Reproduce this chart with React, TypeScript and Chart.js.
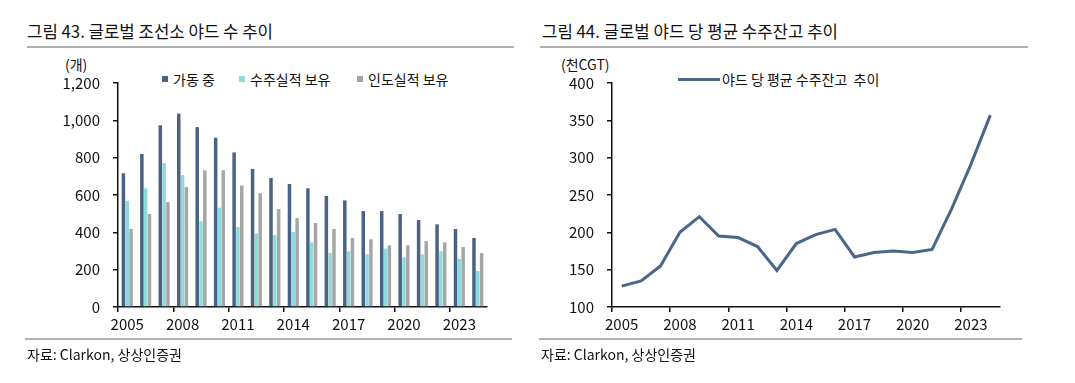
import React, { useEffect, useRef } from "react";
import { Chart, registerables } from "chart.js";

Chart.register(...registerables);

// ---------- data ----------
const years = [
  "2005", "2006", "2007", "2008", "2009", "2010", "2011", "2012", "2013", "2014",
  "2015", "2016", "2017", "2018", "2019", "2020", "2021", "2022", "2023", "2024",
];
const shownYears = ["2005", "2008", "2011", "2014", "2017", "2020", "2023"];

// 그림 43 (개)
const operating = [716, 820, 973, 1036, 964, 907, 828, 739, 691, 659, 636, 595, 571, 514, 514, 498, 466, 443, 418, 370];
const orderHeld = [569, 636, 771, 707, 459, 532, 428, 394, 385, 402, 346, 289, 298, 282, 313, 266, 282, 298, 257, 193];
const deliveryHeld = [418, 498, 562, 643, 732, 732, 651, 610, 525, 476, 450, 418, 370, 363, 330, 330, 353, 346, 321, 289];
const leftTicks = [0, 200, 400, 600, 800, 1000, 1200];

// 그림 44 (천CGT)
const avgBacklog = [128, 135, 155, 200, 221, 195, 193, 181, 149, 185, 197, 204, 167, 173, 175, 173, 177, 231, 291, 357];
const rightTicks = [100, 150, 200, 250, 300, 350, 400];

// ---------- styles ----------
const FONT = "'Noto Sans CJK KR', 'Noto Sans', sans-serif";
const NAVY = "#4a6384";
const CYAN = "#8fdbdb";
const GRAY = "#a6a6a6";
const LINE = "#4a6688";
const AXIS = "#111111";

function xAxis() {
  return {
    offset: true,
    grid: {
      offset: true,
      drawOnChartArea: false,
      drawTicks: true,
      tickLength: 5,
      lineWidth: 1.5,
      color: (ctx: any) =>
        ctx.type === "tick" && ctx.index % 3 === 0 ? AXIS : "rgba(0,0,0,0)",
    },
    border: { display: true, color: AXIS, width: 1.5 },
    ticks: {
      autoSkip: false,
      maxRotation: 0,
      minRotation: 0,
      padding: 3,
      color: "#111",
      font: { family: FONT, size: 15 },
      callback: (_v: any, i: number) => (shownYears.includes(years[i]) ? years[i] : ""),
    },
    afterFit: (s: any) => {
      s.height = 33;
    },
  };
}

function yAxis(ticks: number[], width: number) {
  return {
    min: ticks[0],
    max: ticks[ticks.length - 1],
    afterBuildTicks: (s: any) => {
      s.ticks = ticks.map((v) => ({ value: v }));
    },
    grid: {
      drawOnChartArea: false,
      drawTicks: true,
      tickLength: 5,
      lineWidth: 1.5,
      color: AXIS,
    },
    border: { display: true, color: AXIS, width: 1.5 },
    ticks: {
      padding: 13,
      color: "#111",
      font: { family: FONT, size: 15 },
      callback: (v: any) => Number(v).toLocaleString("en-US"),
    },
    afterFit: (s: any) => {
      s.width = width;
      s.paddingTop = 2;
      s.paddingBottom = 2;
    },
  };
}

function BarChart() {
  const ref = useRef<HTMLCanvasElement>(null);
  useEffect(() => {
    const chart = new Chart(ref.current as HTMLCanvasElement, {
      type: "bar",
      data: {
        labels: years,
        datasets: [
          { label: "가동 중", data: operating, backgroundColor: NAVY },
          { label: "수주실적 보유", data: orderHeld, backgroundColor: CYAN },
          { label: "인도실적 보유", data: deliveryHeld, backgroundColor: GRAY },
        ],
      },
      options: {
        animation: false,
        responsive: false,
        maintainAspectRatio: false,
        layout: { padding: { top: 13, right: 10, left: 0, bottom: 0 } },
        plugins: { legend: { display: false }, tooltip: { enabled: false } },
        datasets: { bar: { categoryPercentage: 0.62, barPercentage: 0.92 } },
        scales: { x: xAxis() as any, y: yAxis(leftTicks, 91) as any },
      },
    });
    return () => chart.destroy();
  }, []);
  return (
    <canvas
      ref={ref}
      width={470}
      height={270}
      style={{ position: "absolute", left: 27, top: 70, width: 470, height: 270 }}
    />
  );
}

function LineChart() {
  const ref = useRef<HTMLCanvasElement>(null);
  useEffect(() => {
    const chart = new Chart(ref.current as HTMLCanvasElement, {
      type: "line",
      data: {
        labels: years,
        datasets: [
          {
            label: "야드 당 평균 수주잔고  추이",
            data: avgBacklog,
            borderColor: LINE,
            backgroundColor: LINE,
            borderWidth: 3,
            pointRadius: 0,
            tension: 0,
            fill: false,
          },
        ],
      },
      options: {
        animation: false,
        responsive: false,
        maintainAspectRatio: false,
        layout: { padding: { top: 13, right: 10, left: 0, bottom: 0 } },
        plugins: { legend: { display: false }, tooltip: { enabled: false } },
        scales: { x: xAxis() as any, y: yAxis(rightTicks, 72) as any },
      },
    });
    return () => chart.destroy();
  }, []);
  return (
    <canvas
      ref={ref}
      width={470}
      height={270}
      style={{ position: "absolute", left: 540, top: 70, width: 470, height: 270 }}
    />
  );
}

const txt = (extra: React.CSSProperties): React.CSSProperties => ({
  position: "absolute",
  fontFamily: FONT,
  color: "#111",
  whiteSpace: "pre",
  lineHeight: "20px",
  ...extra,
});

const hr = (left: number, right: number, top: number): React.CSSProperties => ({
  position: "absolute",
  left,
  top,
  width: right - left,
  height: 2,
  background: "#b0b0b0",
});

function SquareItem({ left, color, label }: { left: number; color: string; label: string }) {
  return (
    <div style={{ position: "absolute", left, top: 69, height: 20, display: "flex", alignItems: "center", fontFamily: FONT, fontSize: 14, color: "#111", whiteSpace: "pre" }}>
      <span style={{ display: "inline-block", width: 6, height: 6, background: color, marginRight: 5 }} />
      <span>{label}</span>
    </div>
  );
}

const titleStyle = (left: number): React.CSSProperties =>
  txt({ left, top: 21, fontSize: 17, fontWeight: 400, transform: "scaleX(0.985)", transformOrigin: "left center" });

export default function App() {
  return (
    <div style={{ position: "fixed", left: 0, top: 0, width: 1075, height: 383, background: "#fff", overflow: "hidden" }}>
      {/* left panel */}
      <div style={titleStyle(27)}>그림 43. 글로벌 조선소 야드 수 추이</div>
      <div style={hr(27, 514, 46)} />
      <div style={txt({ left: 65, top: 54, fontSize: 14 })}>(개)</div>
      <SquareItem left={162} color={NAVY} label="가동 중" />
      <SquareItem left={239} color={CYAN} label="수주실적 보유" />
      <SquareItem left={357} color={GRAY} label="인도실적 보유" />
      <BarChart />
      <div style={hr(25, 512, 338)} />
      <div style={txt({ left: 27, top: 344, fontSize: 14 })}>자료: Clarkon, 상상인증권</div>

      {/* right panel */}
      <div style={titleStyle(542)}>그림 44. 글로벌 야드 당 평균 수주잔고 추이</div>
      <div style={hr(540, 1028, 46)} />
      <div style={txt({ left: 561, top: 54, fontSize: 14 })}>(천CGT)</div>
      <div style={{ position: "absolute", left: 678, top: 69, height: 20, display: "flex", alignItems: "center", fontFamily: FONT, fontSize: 14, color: "#111", whiteSpace: "pre" }}>
        <span style={{ display: "inline-block", width: 42, height: 3, background: LINE, marginRight: 2 }} />
        <span>야드 당 평균 수주잔고  추이</span>
      </div>
      <LineChart />
      <div style={hr(539, 1022, 338)} />
      <div style={txt({ left: 541, top: 344, fontSize: 14 })}>자료: Clarkon, 상상인증권</div>
    </div>
  );
}
